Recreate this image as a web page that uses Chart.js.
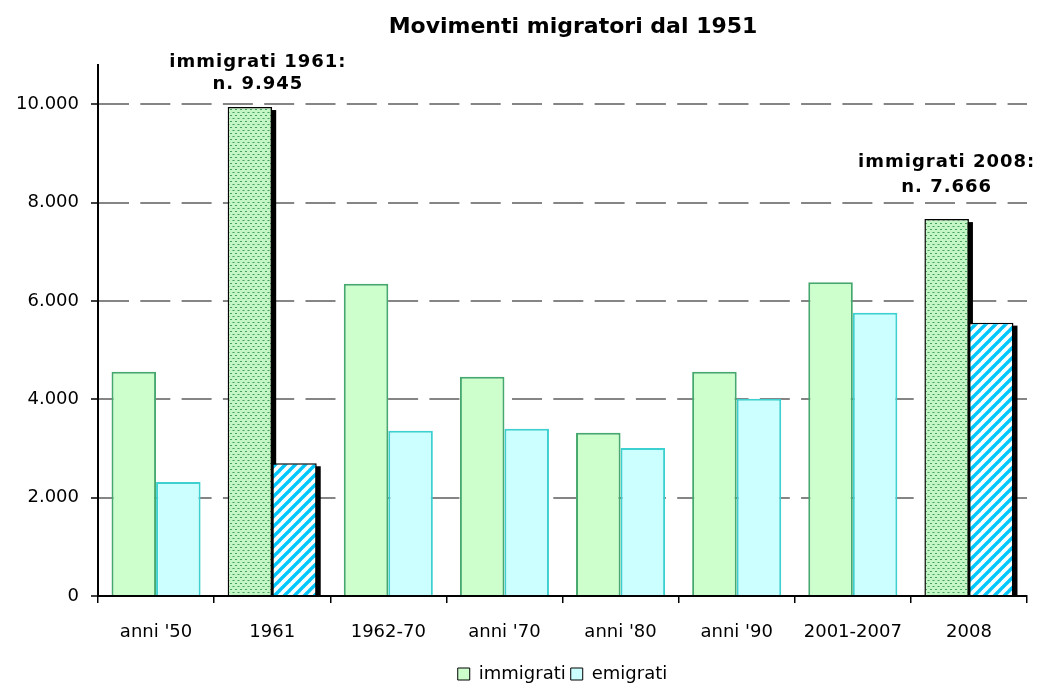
<!DOCTYPE html>
<html><head><meta charset="utf-8">
<script src="https://cdn.jsdelivr.net/npm/chart.js@4.4.1/dist/chart.umd.min.js"></script>
<style>html,body{margin:0;padding:0;background:#fff;overflow:hidden}#wrap{width:1039px;height:687px}</style>
</head><body><div id="wrap"><canvas id="c" width="1039" height="687"></canvas></div>
<script>
const titleText = "Movimenti migratori dal 1951";
const categories = ["anni '50", "1961", "1962-70", "anni '70", "anni '80", "anni '90", "2001-2007", "2008"];
const immigrati = [4560, 9945, 6350, 4460, 3320, 4560, 6380, 7666];
const emigrati = [2320, 2700, 3360, 3400, 3010, 4010, 5760, 5560];
const highlighted = ["1961", "2008"];
const yTicks = [0, 2000, 4000, 6000, 8000, 10000];
const yTickLabels = ["0", "2.000", "4.000", "6.000", "8.000", "10.000"];
const seriesNames = ["immigrati", "emigrati"];
const annotationCats = ["1961", "2008"];
const annotationLines = [["immigrati 1961:", "n. 9.945"], ["immigrati 2008:", "n. 7.666"]];

// styles
const annotationStyle = [{dx: 8, dy: [-40, -18]}, {dx: 0, dy: [-52, -27]}];
const FONT = "DejaVu Sans";

function dotPattern() {
  const c = document.createElement('canvas'); c.width = 5; c.height = 6;
  const x = c.getContext('2d');
  x.fillStyle = '#c4f5c4'; x.fillRect(0, 0, 5, 6);
  x.fillStyle = '#45a060'; x.fillRect(0, 1, 2, 1); x.fillRect(2.5, 4, 2, 1);
  return x.createPattern(c, 'repeat');
}
function stripePattern() {
  const s = 10;
  const c = document.createElement('canvas'); c.width = s; c.height = s;
  const x = c.getContext('2d');
  x.fillStyle = '#ffffff'; x.fillRect(0, 0, s, s);
  x.strokeStyle = '#00c8ff'; x.lineWidth = 3.4;
  for (let k = -1; k <= 1; k++) {
    x.beginPath(); x.moveTo(k * s - 1, s + 1); x.lineTo(k * s + s + 1, -1); x.stroke();
  }
  return x.createPattern(c, 'repeat');
}
const dots = dotPattern(), stripes = stripePattern();
const isHi = c => highlighted.includes(c);

const shadowPlugin = {
  id: 'shadows',
  beforeDatasetsDraw(chart) {
    const ctx = chart.ctx; ctx.save(); ctx.fillStyle = '#000';
    chart.data.datasets.forEach((ds, di) => {
      chart.getDatasetMeta(di).data.forEach((bar, i) => {
        if (!isHi(categories[i])) return;
        const p = bar.getProps(['x', 'y', 'base', 'width'], true);
        ctx.fillRect(p.x - p.width / 2 + 4, p.y + 3, p.width, p.base - p.y - 3);
      });
    });
    ctx.restore();
  }
};
const textPlugin = {
  id: 'texts',
  afterDraw(chart) {
    const ctx = chart.ctx; ctx.save();
    ctx.fillStyle = '#000';
    ctx.textAlign = 'center'; ctx.textBaseline = 'alphabetic';
    ctx.font = 'bold 22px "' + FONT + '"';
    ctx.fillText(titleText, 573, 33);
    ctx.font = 'bold 18px "' + FONT + '"';
    try { ctx.letterSpacing = '1px'; } catch (e) {}
    const meta = chart.getDatasetMeta(0);
    annotationCats.forEach((cat, k) => {
      const i = categories.indexOf(cat);
      const bar = meta.data[i];
      const st = annotationStyle[k];
      annotationLines[k].forEach((line, j) => {
        ctx.fillText(line, bar.x + st.dx, bar.y + st.dy[j]);
      });
    });
    ctx.restore();
  }
};

new Chart(document.getElementById('c'), {
  type: 'bar',
  data: {
    labels: categories,
    datasets: [
      {
        label: seriesNames[0], data: immigrati,
        backgroundColor: categories.map(c => isHi(c) ? dots : '#ccffcc'),
        borderColor: categories.map(c => isHi(c) ? '#000' : '#45a86c'),
        borderWidth: categories.map(c => isHi(c) ? 1.5 : 2),
        categoryPercentage: 0.767, barPercentage: 1
      },
      {
        label: seriesNames[1], data: emigrati,
        backgroundColor: categories.map(c => isHi(c) ? stripes : '#ccffff'),
        borderColor: categories.map(c => isHi(c) ? '#000' : '#3cd0d0'),
        borderWidth: categories.map(c => isHi(c) ? 1.5 : 2),
        categoryPercentage: 0.767, barPercentage: 1
      }
    ]
  },
  options: {
    responsive: false, devicePixelRatio: 1, animation: false,
    layout: {padding: {top: 65, right: 12, left: 0, bottom: -6}},
    plugins: {
      title: {display: false},
      tooltip: {enabled: false},
      legend: {
        display: true, position: 'bottom', fullSize: false,
        labels: {
          boxWidth: 12, boxHeight: 12, padding: 5, color: '#000',
          font: {family: FONT, size: 18},
          generateLabels: () => [
            {text: seriesNames[0], fillStyle: '#ccffcc', strokeStyle: '#000', lineWidth: 1, datasetIndex: 0, hidden: false},
            {text: seriesNames[1], fillStyle: '#ccffff', strokeStyle: '#000', lineWidth: 1, datasetIndex: 1, hidden: false}
          ]
        }
      }
    },
    scales: {
      x: {
        offset: true,
        grid: {display: true, offset: true, drawOnChartArea: false, drawTicks: true, tickLength: 7, color: '#000', lineWidth: 1.5},
        border: {display: true, color: '#000', width: 2},
        ticks: {color: '#000', font: {family: FONT, size: 18}, padding: 19, maxRotation: 0, autoSkip: false},
        afterFit(s) { s.height = 64; }
      },
      y: {
        min: 0, max: 10800,
        afterBuildTicks(s) { s.ticks = yTicks.map(v => ({value: v})); },
        grid: {
          color: c => (c.tick && c.tick.value === 0) ? 'rgba(0,0,0,0)' : '#858585',
          lineWidth: 2, drawTicks: true, tickLength: 7, tickColor: '#000', tickWidth: 1.5, tickBorderDash: []
        },
        border: {display: true, color: '#000', width: 2, dash: [30, 11.3]},
        ticks: {
          color: '#000', font: {family: FONT, size: 18}, padding: 12,
          callback: v => yTickLabels[yTicks.indexOf(v)]
        },
        afterFit(s) { s.width = 98; }
      }
    }
  },
  plugins: [shadowPlugin, textPlugin]
});
</script></body></html>
